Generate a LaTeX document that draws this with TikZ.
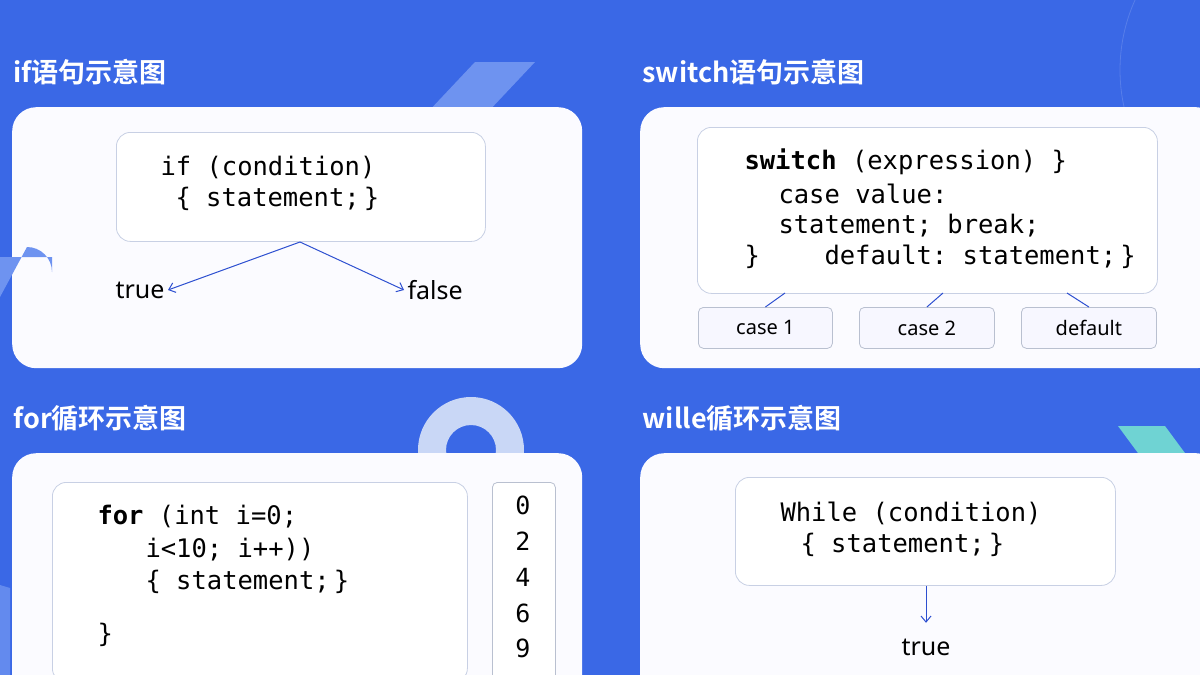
\documentclass[tikz,border=0pt]{standalone}
\usepackage{fontspec}
\setmainfont{Noto Sans}
\setmonofont{DejaVu Sans Mono}
\newfontfamily\cjk{Noto Sans CJK SC}[BoldFont={Noto Sans CJK SC Bold}]
\definecolor{bgblue}{HTML}{3A68E6}
\definecolor{pale}{HTML}{6E93F0}
\definecolor{ring}{HTML}{C9D7F6}
\definecolor{teal}{HTML}{6FD3D3}
\definecolor{edge}{HTML}{C8D0E4}
\definecolor{arr}{HTML}{2D4FD0}
\begin{document}
\begin{tikzpicture}[x=1pt,y=-1pt,
  panel/.style={fill=white!96!blue!40!white, draw=none, rounded corners=24pt},
  inner/.style={fill=white, draw=edge, line width=0.8pt, rounded corners=14pt},
  small/.style={fill=white!97!blue, draw=edge!80!gray, line width=0.8pt, rounded corners=5pt},
  head/.style={anchor=west, text=white, font=\cjk\bfseries\fontsize{27}{30}\selectfont},
  code/.style={anchor=west, font=\ttfamily\fontsize{25.5}{30}\selectfont},
  lab/.style={font=\fontsize{25}{28}\selectfont},
  slab/.style={font=\fontsize{20}{24}\selectfont},
  con/.style={arr, line width=1pt},
  ar/.style={con, ->, >={Straight Barb[length=6pt,width=10pt]}}]
\usetikzlibrary{arrows.meta}
\fill[bgblue] (0,0) rectangle (1200,675);
\useasboundingbox (0,0) rectangle (1200,675);
\draw[white, opacity=0.15, line width=0.8pt] (1290,70) circle (170);
% decorations behind
\fill[pale] (410,131) -- (475,62) -- (535,62) -- (470,131) -- cycle;
\fill[ring, even odd rule] (471,450) circle (53) (471,450) circle (25);
\fill[teal] (1118,426) -- (1165,426) -- (1196,468) -- (1149,468) -- cycle;
% panels
\node[panel, minimum width=570pt, minimum height=261pt, anchor=north west] (p1) at (12,107) {};
\node[panel, minimum width=580pt, minimum height=261pt, anchor=north west] (p2) at (640,107) {};
\node[panel, minimum width=570pt, minimum height=260pt, anchor=north west] (p3) at (12,453) {};
\node[panel, minimum width=580pt, minimum height=260pt, anchor=north west] (p4) at (640,453) {};
\fill[pale] (0,257) -- (52,257) -- (52,272) arc (0:-90:25) -- (0,297) -- cycle;
\fill[pale, opacity=0.8] (0,585) -- (10,588) -- (10,675) -- (0,675) -- cycle;
% headings
\node[head] (h1) at (10,72) {if语句示意图};
\node[head] (h2) at (639,72) {switch语句示意图};
\node[head] (h3) at (10,418) {for循环示意图};
\node[head] (h4) at (639,418) {wille循环示意图};
% if
\node[inner, minimum width=369pt, minimum height=109pt, anchor=north west] (ifb) at (116,132) {};
\node[code] (if1) at (157,167) {if (condition)};
\node[code] (if2) at (172,199) {\{ statement;\,\}};
\coordinate (ifa) at (300,242);
\node[lab, anchor=east] (t1) at (168,290) {true};
\node[lab, anchor=west] (f1) at (404,290) {false};
\draw[ar] (ifa) -- (t1.east);
\draw[ar] (ifa) -- (f1.west);
% switch
\node[inner, minimum width=460pt, minimum height=166pt, anchor=north west] (swb) at (697,127) {};
\node[code] (s1) at (741,162) {\textbf{switch} (expression) \}};
\node[code] (s2) at (775,194) {case value:};
\node[code] (s3) at (775,226) {statement; break;};
\node[code] (s4) at (741,257) {\}};
\node[code] (s5) at (821,257) {default: statement;\,\}};
\node[small, minimum width=134pt, minimum height=41pt, anchor=north west, slab] (c1) at (698,307) {case 1};
\node[small, minimum width=135pt, minimum height=41pt, anchor=north west, slab] (c2) at (859,307) {case 2};
\node[small, minimum width=135pt, minimum height=41pt, anchor=north west, slab] (c3) at (1021,307) {default};
\coordinate (k1) at (785,293); \coordinate (k2) at (943,293); \coordinate (k3) at (1067,293);
\draw[con] (k1) -- (c1.north);
\draw[con] (k2) -- (c2.north);
\draw[con] (k3) -- (c3.north);
% for
\node[inner, minimum width=415pt, minimum height=200pt, anchor=north west] (fb) at (52,482) {};
\node[code] (fo1) at (94,517) {\textbf{for} (int i=0;};
\node[code] (fo2) at (142,550) {i<10; i++))};
\node[code] (fo3) at (142,582) {\{ statement;\,\}};
\node[code] (fo4) at (94,635) {\}};
\node[small, fill=white, minimum width=63pt, minimum height=200pt, anchor=north west] (nb) at (492,482) {};
\foreach \n/\y in {0/505,2/541,4/577,6/613,9/648}
  \node[font=\ttfamily\fontsize{25}{28}\selectfont] (n\n) at (523,\y) {\n};
% while
\node[inner, minimum width=380pt, minimum height=108pt, anchor=north west] (wb) at (735,477) {};
\node[code] (w1) at (777,513) {While (condition)};
\node[code] (w2) at (797,545) {\{ statement;\,\}};
\node[lab] (t2) at (926,647) {true};
\draw[ar] (wb.south -| t2) -- ++(0,37);
\end{tikzpicture}
\end{document}
